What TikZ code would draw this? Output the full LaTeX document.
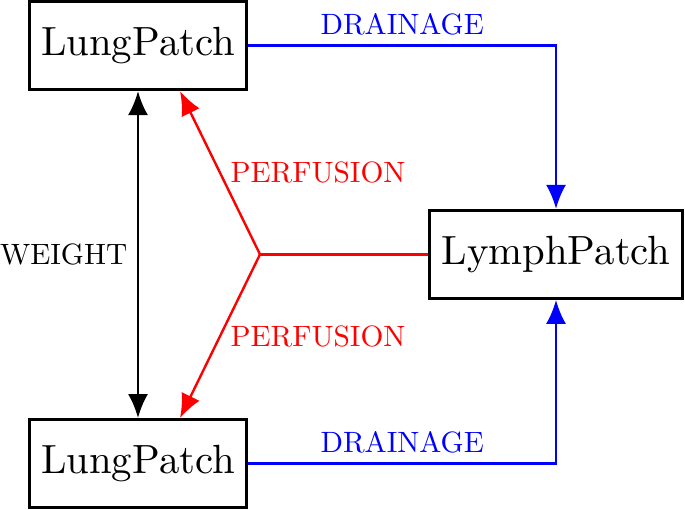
\documentclass[tikz,border=0pt]{standalone}
\usepackage{amssymb}
\usepackage{amsmath}
\usetikzlibrary{arrows.meta}

\begin{document}
\begin{tikzpicture}[x=1pt,y=1pt,>={Latex[length=6pt,width=5pt]},
patch/.style={draw,line width=0.75pt,minimum height=22pt,inner xsep=3pt,font=\fontsize{10.2}{12}\selectfont},
link/.style={line width=0.6pt},
lbl/.style={font=\normalsize,scale=0.735,transform shape}]
\useasboundingbox (0,0) rectangle (171.25,127.5);
\node[patch] (lungA) at (34.5,116.1) {LungPatch};
\node[patch] (lungB) at (34.5,11.6) {LungPatch};
\node[patch] (lymph) at (139,63.9) {LymphPatch};
\coordinate (split) at (65,63.9);
\draw[link,blue,->] (lungA.east) -| node[pos=0.25,above,lbl]{DRAINAGE} (lymph.north);
\draw[link,blue,->] (lungB.east) -| node[pos=0.25,above,lbl]{DRAINAGE} (lymph.south);
\draw[link,<->] (lungA.south) -- node[left,lbl]{WEIGHT} (lungB.north);
\draw[link,red] (lymph.west) -- (split);
\draw[link,red,->] (split) -- node[right,lbl]{PERFUSION} ([xshift=10.5pt]lungA.south);
\draw[link,red,->] (split) -- node[right,lbl]{PERFUSION} ([xshift=10.5pt]lungB.north);
\end{tikzpicture}
\end{document}
